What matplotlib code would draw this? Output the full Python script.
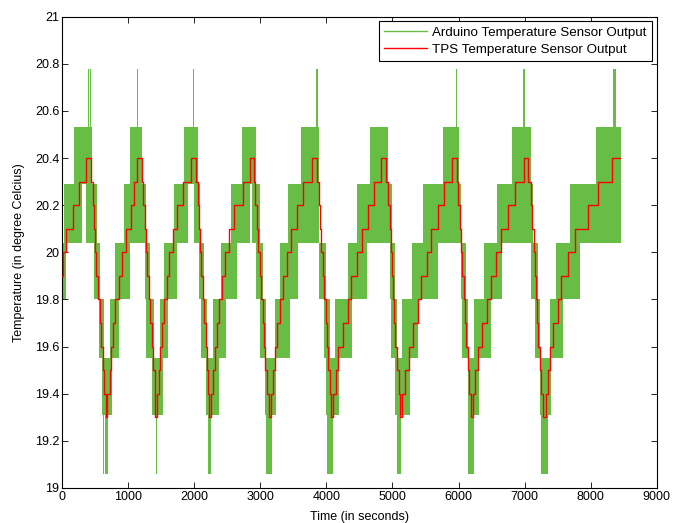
import matplotlib
matplotlib.use("Agg")
import matplotlib.pyplot as plt
from matplotlib.lines import Line2D

# quantised output levels of the Arduino sensor
green_levels = [19.06, 19.31, 19.55, 19.80, 20.04, 20.29, 20.53, 20.78]

# Arduino output: dense toggling between two neighbouring levels
# each band: start time, end time, index of lower level
band_start = [0, 35, 367, 186, 478, 553, 604, 619, 654, 730, 806, 931, 1032,
              400, 425, 1135, 1160,
              1259, 1274, 1360, 1420, 1485, 1536, 1687, 1999, 1848, 1989,
              2075, 2110, 2175, 2215, 2291, 2402, 2553, 2880, 2730,
              2941, 2991, 3077, 3092, 3218, 3293, 3419, 3621, 3848,
              3883, 3963, 4000, 4014, 4130, 4326, 4462, 4663,
              4966, 4981, 5041, 5066, 5142, 5293, 5469, 5766, 5958,
              6034, 6059, 6149, 6144, 6235, 6386, 6588, 6804, 6980,
              7101, 7152, 7227, 7252, 7378, 7479, 7680, 8083, 8335]
band_end = [65, 302, 528, 453, 569, 629, 755, 634, 695, 856, 1022, 1274, 1208,
            410, 435, 1145, 1170,
            1324, 1385, 1521, 1435, 1596, 1737, 1913, 2085, 2050, 2004,
            2150, 2200, 2377, 2251, 2478, 2654, 2850, 2991, 2941,
            3042, 3092, 3243, 3178, 3445, 3570, 3883, 3883, 3868,
            4000, 4050, 4185, 4100, 4386, 4613, 4991, 4940,
            5041, 5066, 5268, 5132, 5394, 5686, 6034, 6008, 5973,
            6109, 6149, 6310, 6240, 6487, 6663, 7126, 7091, 7006,
            7202, 7227, 7403, 7353, 7580, 7832, 8461, 8461, 8386]
band_low = [3, 4, 4, 5, 3, 2, 1, 0, 0, 2, 3, 4, 5,
            6, 6, 6, 6,
            3, 2, 1, 0, 2, 3, 4, 4, 5, 6,
            3, 2, 1, 0, 2, 3, 4, 4, 5,
            3, 2, 1, 0, 2, 3, 4, 5, 6,
            3, 2, 1, 0, 2, 3, 4, 5,
            3, 2, 1, 0, 2, 3, 4, 5, 6,
            3, 2, 1, 0, 2, 3, 4, 5, 6,
            3, 2, 1, 0, 2, 3, 4, 5, 6]

# TPS output: step changes (time in s, temperature in C)
red_t = [0, 20, 65, 161, 251, 362, 438, 463, 478, 493, 513, 538, 569, 589, 614, 639, 659,
         685, 720, 740, 765, 800, 856, 911, 972, 1042, 1093, 1133, 1208, 1228, 1249, 1269,
         1289, 1309, 1334, 1360, 1380, 1400, 1410,
         1430, 1465, 1490, 1515, 1546, 1581, 1616, 1672, 1737, 1830, 1959, 2024, 2055, 2075,
         2090, 2110, 2130, 2150, 2175, 2191, 2211, 2231,
         2261, 2291, 2321, 2352, 2382, 2427, 2468, 2528, 2604, 2745, 2840, 2906, 2926, 2951,
         2971, 2991, 3011, 3037, 3057, 3077, 3102, 3127,
         3168, 3198, 3223, 3258, 3299, 3349, 3409, 3470, 3550, 3640, 3787, 3858, 3883, 3903,
         3923, 3943, 3963, 3989, 4009, 4029, 4054, 4074,
         4104, 4140, 4175, 4250, 4321, 4376, 4462, 4538, 4628, 4714, 4830, 4905, 4930, 4956,
         4976, 4991, 5006, 5026, 5046, 5066, 5092, 5112,
         5147, 5192, 5243, 5318, 5394, 5434, 5520, 5585, 5696, 5782, 5908, 5973, 5998, 6023,
         6044, 6059, 6079, 6099, 6119, 6144, 6164, 6185,
         6220, 6245, 6295, 6361, 6426, 6487, 6567, 6638, 6754, 6855, 6985, 7056, 7101, 7116,
         7136, 7152, 7167, 7187, 7207, 7227, 7252, 7277,
         7318, 7353, 7388, 7428, 7504, 7554, 7655, 7766, 7957, 8109, 8325, 8446]
red_v = [19.9, 20.0, 20.1, 20.2, 20.3, 20.4, 20.3, 20.2, 20.1, 20.0, 19.9, 19.8, 19.7, 19.6, 19.5, 19.4, 19.3,
         19.4, 19.5, 19.6, 19.7, 19.8, 19.9, 20.0, 20.1, 20.2, 20.3, 20.4, 20.3, 20.2, 20.1, 20.0,
         19.9, 19.8, 19.7, 19.6, 19.5, 19.4, 19.3,
         19.4, 19.5, 19.6, 19.7, 19.8, 19.9, 20.0, 20.1, 20.2, 20.3, 20.4, 20.3, 20.2, 20.1,
         20.0, 19.9, 19.8, 19.7, 19.6, 19.5, 19.4, 19.3,
         19.4, 19.5, 19.6, 19.7, 19.8, 19.9, 20.0, 20.1, 20.2, 20.3, 20.4, 20.3, 20.2, 20.1,
         20.0, 19.9, 19.8, 19.7, 19.6, 19.5, 19.4, 19.3,
         19.4, 19.5, 19.6, 19.7, 19.8, 19.9, 20.0, 20.1, 20.2, 20.3, 20.4, 20.3, 20.2, 20.1,
         20.0, 19.9, 19.8, 19.7, 19.6, 19.5, 19.4, 19.3,
         19.4, 19.5, 19.6, 19.7, 19.8, 19.9, 20.0, 20.1, 20.2, 20.3, 20.4, 20.3, 20.2, 20.1,
         20.0, 19.9, 19.8, 19.7, 19.6, 19.5, 19.4, 19.3,
         19.4, 19.5, 19.6, 19.7, 19.8, 19.9, 20.0, 20.1, 20.2, 20.3, 20.4, 20.3, 20.2, 20.1,
         20.0, 19.9, 19.8, 19.7, 19.6, 19.5, 19.4, 19.3,
         19.4, 19.5, 19.6, 19.7, 19.8, 19.9, 20.0, 20.1, 20.2, 20.3, 20.4, 20.3, 20.2, 20.1,
         20.0, 19.9, 19.8, 19.7, 19.6, 19.5, 19.4, 19.3,
         19.4, 19.5, 19.6, 19.7, 19.8, 19.9, 20.0, 20.1, 20.2, 20.3, 20.4, 20.4]

x_ticks = [0, 1000, 2000, 3000, 4000, 5000, 6000, 7000, 8000, 9000]
y_ticks = [19, 19.2, 19.4, 19.6, 19.8, 20, 20.2, 20.4, 20.6, 20.8, 21]
y_tick_labels = ["19", "19.2", "19.4", "19.6", "19.8", "20", "20.2", "20.4", "20.6", "20.8", "21"]

green = "#68bd45"
red = "#ff0000"

plt.rcParams["font.family"] = ["Liberation Sans", "DejaVu Sans"]
plt.rcParams["font.size"] = 9

fig = plt.figure(figsize=(6.87, 5.23), dpi=100)
ax = fig.add_axes([0.0903, 0.067, 0.8657, 0.901])

bottoms = [green_levels[i] for i in band_low]
heights = [green_levels[i + 1] - green_levels[i] for i in band_low]
widths = [e - s for s, e in zip(band_start, band_end)]
ax.bar(band_start, heights, width=widths, bottom=bottoms, align="edge",
       color=green, linewidth=0, zorder=2)

ax.step(red_t, red_v, where="post", color=red, linewidth=1.0, zorder=3)

ax.set_xlim(0, 9000)
ax.set_ylim(19, 21)
ax.set_xticks(x_ticks)
ax.set_yticks(y_ticks)
ax.set_yticklabels(y_tick_labels)
ax.tick_params(direction="in", top=True, right=True, length=4, width=0.6,
               labelsize=9, pad=2)
for s in ax.spines.values():
    s.set_linewidth(0.8)

ax.set_xlabel("Time (in seconds)", fontsize=9, labelpad=6)
ax.set_ylabel("Temperature (in degree Celcius)", fontsize=9, labelpad=7)

handles = [Line2D([], [], color=green, linewidth=1.0),
           Line2D([], [], color=red, linewidth=1.0)]
leg = ax.legend(handles, ["Arduino Temperature Sensor Output", "TPS Temperature Sensor Output"],
                loc="upper right", fontsize=9.6, fancybox=False, framealpha=1,
                edgecolor="black", borderaxespad=0.35, handlelength=3.2,
                borderpad=0.4, labelspacing=0.35, handletextpad=0.4)
leg.get_frame().set_linewidth(0.8)

fig.savefig("out.png", dpi=100)
